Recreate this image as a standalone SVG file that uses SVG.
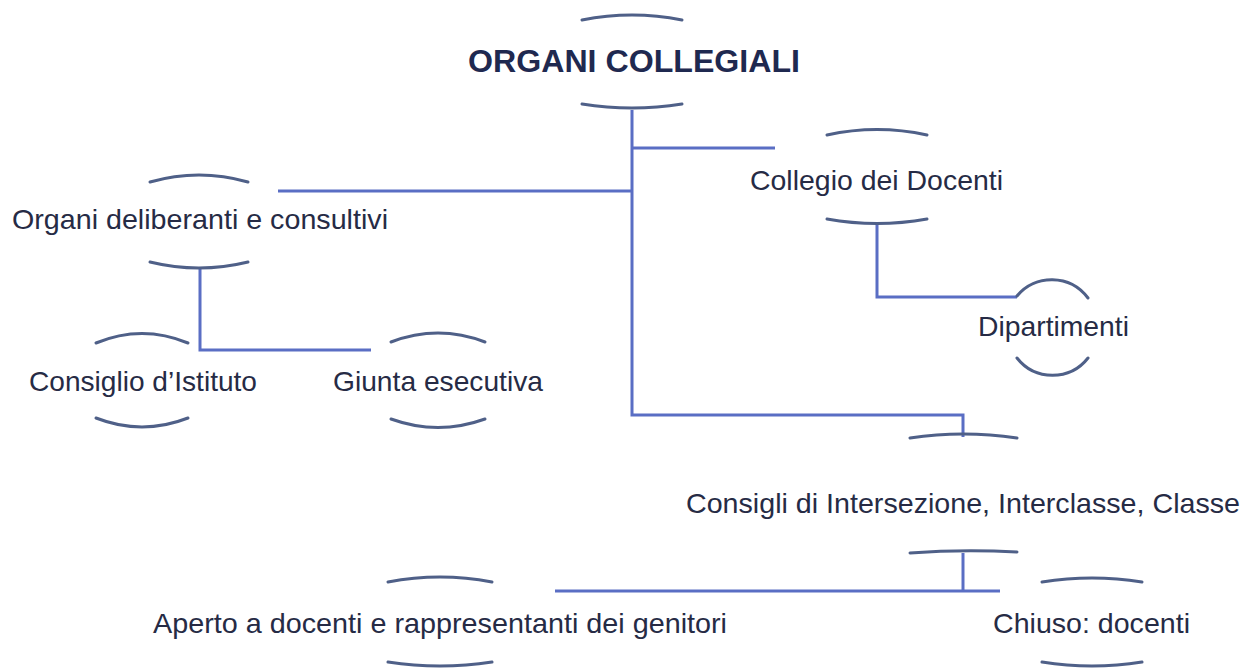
<svg xmlns="http://www.w3.org/2000/svg" width="1246" height="671" viewBox="0 0 1246 671">
<style>
.t{font-family:"Liberation Sans",Arial,sans-serif;font-size:28px;fill:#262b45}
.b{font-weight:bold;font-size:31px;fill:#1f2950}
.arc{fill:none;stroke:#4f6088;stroke-width:3;stroke-linecap:round}
.con{fill:none;stroke:#5a6ec4;stroke-width:3}
</style>
<rect width="1246" height="671" fill="#ffffff"/>
<g id="connectors">
<path class="con" d="M632,110 V415 H963 V437"/>
<path class="con" d="M632,148 H775"/>
<path class="con" d="M278,191 H632"/>
<path class="con" d="M200,268 V350 H371"/>
<path class="con" d="M877,225 V297 H1017"/>
<path class="con" d="M963,553 V591"/>
<path class="con" d="M555,591 H1000"/>
</g>
<g id="n-organi-collegiali">
<path class="arc" d="M582,20 Q632,10 682,20"/>
<text class="t b" x="468" y="72" textLength="332" lengthAdjust="spacingAndGlyphs">ORGANI COLLEGIALI</text>
<path class="arc" d="M582,104 Q632,112 682,104"/>
</g>
<g id="n-organi-deliberanti">
<path class="arc" d="M150,182 Q199,168 248,182"/>
<text class="t" x="12" y="229" textLength="376" lengthAdjust="spacingAndGlyphs">Organi deliberanti e consultivi</text>
<path class="arc" d="M150,262 Q199,274 248,262"/>
</g>
<g id="n-collegio">
<path class="arc" d="M827,135 Q877,124 927,135"/>
<text class="t" x="750" y="190" textLength="253" lengthAdjust="spacingAndGlyphs">Collegio dei Docenti</text>
<path class="arc" d="M827,219 Q877,228 927,219"/>
</g>
<g id="n-dipartimenti">
<path class="arc" d="M1017,296 C1035,274 1070,274 1088,298"/>
<text class="t" x="978" y="336" textLength="151" lengthAdjust="spacingAndGlyphs">Dipartimenti</text>
<path class="arc" d="M1017,358 C1035,381 1070,381 1088,358"/>
</g>
<g id="n-consiglio-istituto">
<path class="arc" d="M96,343 Q142,324 188,343"/>
<text class="t" x="29" y="391" textLength="228" lengthAdjust="spacingAndGlyphs">Consiglio d’Istituto</text>
<path class="arc" d="M96,418 Q142,436 188,418"/>
</g>
<g id="n-giunta">
<path class="arc" d="M391,342 Q438,324 485,342"/>
<text class="t" x="333" y="391" textLength="210" lengthAdjust="spacingAndGlyphs">Giunta esecutiva</text>
<path class="arc" d="M391,419 Q438,436 485,419"/>
</g>
<g id="n-consigli">
<path class="arc" d="M910,438 Q963,430 1017,438"/>
<text class="t" x="686" y="513" textLength="554" lengthAdjust="spacingAndGlyphs">Consigli di Intersezione, Interclasse, Classe</text>
<path class="arc" d="M910,553 Q963,549 1017,552"/>
</g>
<g id="n-aperto">
<path class="arc" d="M388,582 Q440,572 492,582"/>
<text class="t" x="153" y="633" textLength="574" lengthAdjust="spacingAndGlyphs">Aperto a docenti e rappresentanti dei genitori</text>
<path class="arc" d="M388,662 Q440,670 492,662"/>
</g>
<g id="n-chiuso">
<path class="arc" d="M1042,582 Q1092,574 1142,582"/>
<text class="t" x="993" y="633" textLength="197" lengthAdjust="spacingAndGlyphs">Chiuso: docenti</text>
<path class="arc" d="M1042,662 Q1092,670 1142,662"/>
</g>
</svg>
